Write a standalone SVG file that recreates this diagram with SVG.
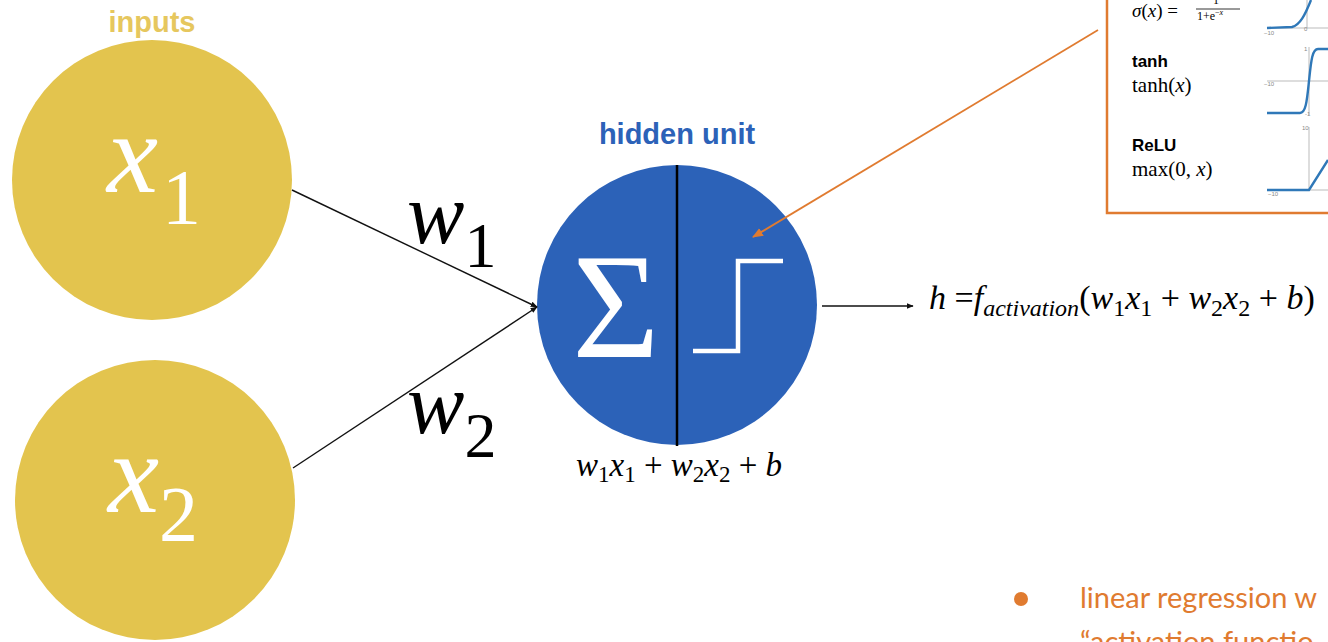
<svg xmlns="http://www.w3.org/2000/svg" width="1328" height="642" viewBox="0 0 1328 642">
<style>
.inp{fill:#e3c44e}
.hid{fill:#2c62b8}
.math{font-family:"Liberation Serif",serif;font-style:italic}
.rm{font-family:"Liberation Serif",serif}
.wht{fill:#ffffff}
.blk{fill:#000000}
.edge{stroke:#111;stroke-width:1.4;fill:none}
.orange{stroke:#e07b30}
.lbl{font-family:"Liberation Sans",Arial,sans-serif;font-weight:bold}
.axis{stroke:#bbbbbb;stroke-width:1}
.curve{stroke:#2f78b8;stroke-width:2.4;fill:none}
.tick{font-family:"Liberation Sans",sans-serif;font-size:6px;fill:#888}
</style>
<defs>
<marker id="ah" viewBox="0 0 10 10" refX="9" refY="5" markerWidth="7" markerHeight="7" orient="auto" markerUnits="userSpaceOnUse">
<path d="M0,1 L10,5 L0,9 z" fill="#111"/>
</marker>
<marker id="aho" viewBox="0 0 10 10" refX="9" refY="5" markerWidth="11" markerHeight="11" orient="auto" markerUnits="userSpaceOnUse">
<path d="M0,1 L10,5 L0,9 z" fill="#e07b30"/>
</marker>
</defs>
<rect width="1328" height="642" fill="#ffffff"/>

<g id="inputs-label">
<text class="lbl" x="152" y="32" font-size="29" text-anchor="middle" fill="#e6c75e">inputs</text>
</g>

<g id="node-x1">
<circle class="inp" cx="152" cy="180" r="140"/>
<text class="math wht" x="107" y="192" font-size="115">x<tspan class="rm" font-style="normal" font-size="78" dx="4" dy="31">1</tspan></text>
</g>

<g id="node-x2">
<circle class="inp" cx="155" cy="500" r="140"/>
<text class="math wht" x="108" y="512" font-size="115">x<tspan font-style="normal" font-size="78" dy="28">2</tspan></text>
</g>

<g id="node-hidden">
<text class="lbl" x="677" y="144" font-size="29" text-anchor="middle" fill="#2c62b8">hidden unit</text>
<circle class="hid" cx="677" cy="305" r="140"/>
<line x1="677" y1="165" x2="677" y2="446" stroke="#000" stroke-width="2.5"/>
<text class="rm wht" x="616" y="357" font-size="150" text-anchor="middle">Σ</text>
<polyline points="693,351 738,351 738,261 783,261" fill="none" stroke="#fff" stroke-width="4.5"/>
<text class="math blk" x="679" y="476" font-size="33" text-anchor="middle">w<tspan font-style="normal" font-size="23" dy="6">1</tspan><tspan dy="-6">x</tspan><tspan font-style="normal" font-size="23" dy="6">1</tspan><tspan font-style="normal" dy="-6"> + </tspan>w<tspan font-style="normal" font-size="23" dy="6">2</tspan><tspan dy="-6">x</tspan><tspan font-style="normal" font-size="23" dy="6">2</tspan><tspan font-style="normal" dy="-6"> + </tspan>b</text>
</g>

<g id="output-formula">
<text class="math blk" x="929" y="309" font-size="34">h<tspan font-style="normal"> =</tspan>f<tspan font-size="24" dy="7">activation</tspan><tspan font-style="normal" dy="-7">(</tspan>w<tspan font-style="normal" font-size="24" dy="7">1</tspan><tspan dy="-7">x</tspan><tspan font-style="normal" font-size="24" dy="7">1</tspan><tspan font-style="normal" dy="-7"> + </tspan>w<tspan font-style="normal" font-size="24" dy="7">2</tspan><tspan dy="-7">x</tspan><tspan font-style="normal" font-size="24" dy="7">2</tspan><tspan font-style="normal" dy="-7"> + </tspan>b<tspan font-style="normal">)</tspan></text>
</g>

<g id="activation-box">
<rect x="1107" y="-10" width="240" height="223" fill="#ffffff" stroke="#e07b30" stroke-width="2.5"/>
<text class="rm blk" x="1132" y="17" font-size="19"><tspan font-style="italic">σ</tspan>(<tspan font-style="italic">x</tspan>) =</text>
<text class="rm blk" x="1213" y="4" font-size="12">1</text>
<line x1="1196" y1="9" x2="1240" y2="9" stroke="#000" stroke-width="0.8"/>
<text class="rm blk" x="1197" y="20" font-size="12">1+e<tspan font-size="8" dy="-5">−<tspan font-style="italic">x</tspan></tspan></text>
<text class="lbl blk" x="1132" y="67" font-size="17">tanh</text>
<text class="rm blk" x="1132" y="92" font-size="21">tanh(<tspan font-style="italic">x</tspan>)</text>
<text class="lbl blk" x="1132" y="151" font-size="17">ReLU</text>
<text class="rm blk" x="1132" y="176" font-size="21">max(0, <tspan font-style="italic">x</tspan>)</text>
<line class="axis" x1="1267" y1="28" x2="1328" y2="28"/>
<line class="axis" x1="1307" y1="0" x2="1307" y2="28"/>
<text class="tick" x="1264" y="35">−10</text>
<text class="tick" x="1304" y="31">0</text>
<path class="curve" d="M1267,28 L1292,27 C1300,25 1305,15 1311,0"/>
<line class="axis" x1="1267" y1="81" x2="1328" y2="81"/>
<line class="axis" x1="1309" y1="47" x2="1309" y2="115"/>
<text class="tick" x="1304" y="51">1</text>
<text class="tick" x="1264" y="86">−10</text>
<text class="tick" x="1305" y="116">-1</text>
<path class="curve" d="M1267,113 L1300,113 C1306,113 1307,100 1309,81 C1311,62 1312,49 1318,49 L1328,49"/>
<line class="axis" x1="1267" y1="190" x2="1328" y2="190"/>
<line class="axis" x1="1309" y1="127" x2="1309" y2="190"/>
<text class="tick" x="1302" y="130">10</text>
<text class="tick" x="1268" y="196">−10</text>
<path class="curve" d="M1267,190 L1309,190 L1328,160"/>
</g>

<g id="bullet">
<circle cx="1021" cy="599" r="7" fill="#e07b30"/>
<text x="1080" y="608" font-family="Lato,'Liberation Sans',sans-serif" font-size="29" fill="#e07b30">linear regression w</text>
<text x="1080" y="652" font-family="Lato,'Liberation Sans',sans-serif" font-size="29" fill="#e07b30">“activation functio</text>
</g>

<g id="connectors">
<line class="edge" x1="292" y1="190" x2="537" y2="307" marker-end="url(#ah)"/>
<line class="edge" x1="293" y1="468" x2="537" y2="307" marker-end="url(#ah)"/>
<line class="edge" x1="822" y1="306" x2="913" y2="306" marker-end="url(#ah)"/>
<line class="orange" stroke-width="1.8" x1="1098" y1="30" x2="753" y2="237" marker-end="url(#aho)"/>
<text class="math blk" x="407" y="243" font-size="86">w<tspan class="rm" font-style="normal" font-size="64" dy="24">1</tspan></text>
<text class="math blk" x="407" y="433" font-size="86">w<tspan font-style="normal" font-size="64" dy="24">2</tspan></text>
</g>
</svg>
